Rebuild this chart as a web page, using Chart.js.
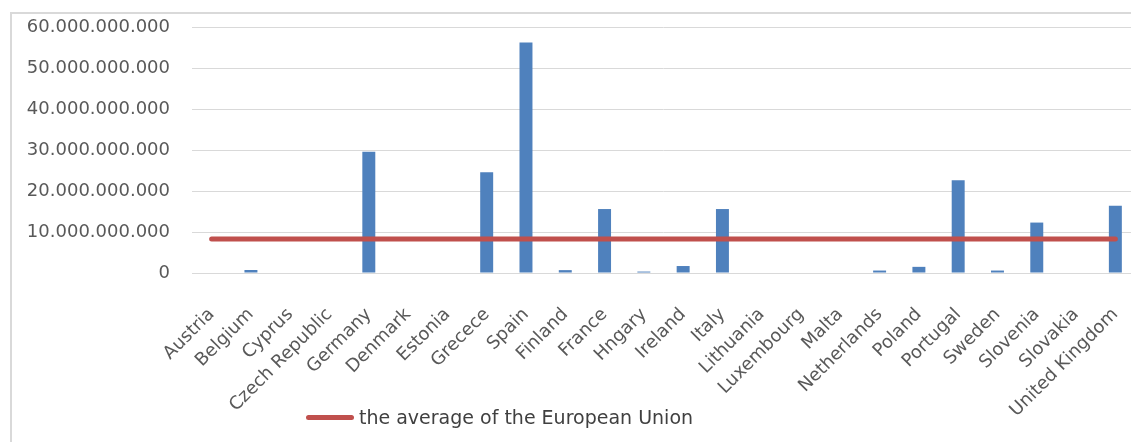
<!DOCTYPE html>
<html>
<head>
<meta charset="utf-8">
<script src="https://cdn.jsdelivr.net/npm/chart.js@4/dist/chart.umd.min.js"></script>
<style>
  html, body { margin: 0; padding: 0; background: #fff; overflow: hidden; width: 1131px; height: 442px; }
  .edge { position: absolute; background: #d9d9d9; }
  #edge-top { left: 10px; top: 12px; width: 1121px; height: 2px; }
  #edge-left { left: 10px; top: 12px; width: 2px; height: 430px; }
  #chart { position: absolute; left: 0; top: 0; }
  #legend { position: absolute; left: 306px; top: 406px; font-family: "DejaVu Sans", sans-serif;
            font-size: 19px; color: #404040; white-space: nowrap; }
  #legend .swatch { display: inline-block; width: 48px; height: 5px; background: #C0504D;
                    border-radius: 3px; vertical-align: middle; margin-right: 5px; position: relative; top: -1px; }
</style>
</head>
<body>
<div class="edge" id="edge-top"></div>
<div class="edge" id="edge-left"></div>
<canvas id="chart" width="1150" height="442"></canvas>
<div id="legend"><span class="swatch"></span>the average of the European Union</div>
<script>
// Categorias (países) e valores
const countries = ['Austria', 'Belgium', 'Cyprus', 'Czech Republic', 'Germany', 'Denmark', 'Estonia',
  'Grecece', 'Spain', 'Finland', 'France', 'Hngary', 'Ireland', 'Italy', 'Lithuania', 'Luxembourg',
  'Malta', 'Netherlands', 'Poland', 'Portugal', 'Sweden', 'Slovenia', 'Slovakia', 'United Kingdom'];

const countryValues = [0, 0.73e9, 0, 0, 29.6e9, 0, 0, 24.6e9, 56.2e9, 0.7e9, 15.6e9, 0.35e9, 1.7e9,
  15.6e9, 0, 0, 0, 0.6e9, 1.5e9, 22.6e9, 0.6e9, 12.3e9, 0, 16.4e9];

const euAverage = 8.3e9;
const averageLine = countries.map(() => euAverage);

const yTicks = [0, 10e9, 20e9, 30e9, 40e9, 50e9, 60e9];

// formata com ponto como separador de milhar
function fmt(v) {
  return String(Math.round(v)).replace(/\B(?=(\d{3})+(?!\d))/g, '.');
}

const labelFont = { family: "'DejaVu Sans', sans-serif", size: 18 };

const ctx = document.getElementById('chart').getContext('2d');
new Chart(ctx, {
  data: {
    labels: countries,
    datasets: [
      {
        type: 'line',
        label: 'the average of the European Union',
        data: averageLine,
        borderColor: '#C0504D',
        borderWidth: 5,
        borderCapStyle: 'round',
        pointRadius: 0,
        order: 0
      },
      {
        type: 'bar',
        label: 'values',
        data: countryValues,
        backgroundColor: '#4F81BD',
        borderWidth: 0,
        barPercentage: 0.33,
        categoryPercentage: 1,
        order: 1
      }
    ]
  },
  options: {
    responsive: false,
    animation: false,
    layout: { padding: { top: 27, right: 15, bottom: 0, left: 0 } },
    plugins: { legend: { display: false }, tooltip: { enabled: false } },
    scales: {
      x: {
        grid: { display: false },
        border: { color: '#d9d9d9', width: 1 },
        ticks: {
          autoSkip: false, minRotation: 45, maxRotation: 45,
          color: '#595959', font: labelFont, padding: 23
        },
        afterFit: (s) => { s.height = 169; s.paddingLeft = 0; s.paddingRight = 0; }
      },
      y: {
        min: 0, max: 60e9,
        afterBuildTicks: (s) => { s.ticks = yTicks.map(v => ({ value: v })); },
        grid: { color: '#d9d9d9', lineWidth: 1, drawTicks: false },
        border: { display: false },
        ticks: { color: '#595959', font: labelFont, padding: 22, callback: (v) => fmt(v) },
        afterFit: (s) => { s.width = 192; s.paddingTop = 0; s.paddingBottom = 0; }
      }
    }
  }
});
</script>
</body>
</html>
